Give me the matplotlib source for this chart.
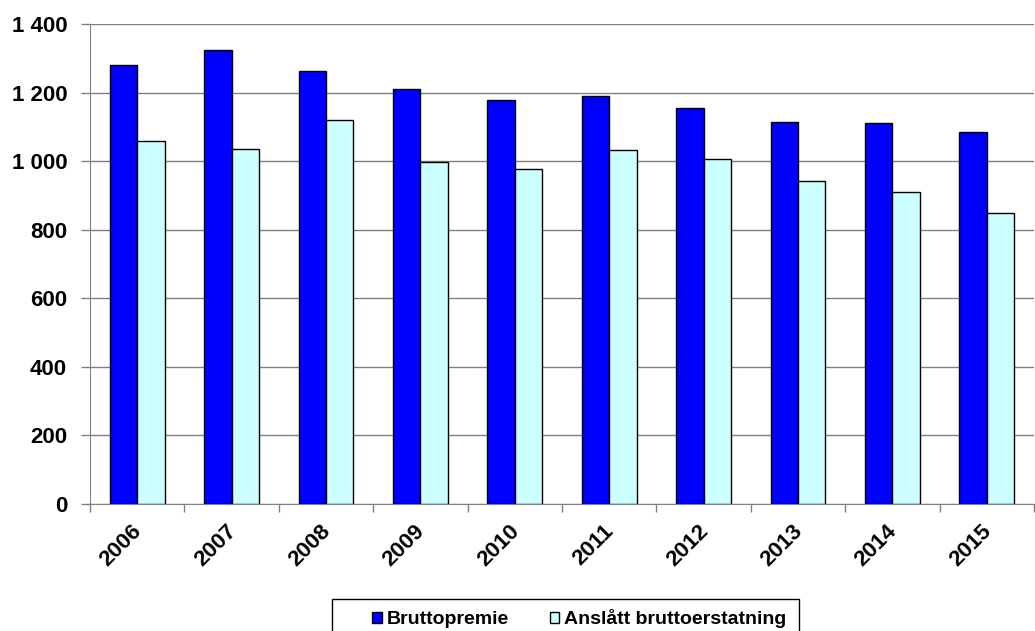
import numpy as np
import matplotlib.pyplot as plt
import matplotlib.transforms as mtransforms
from matplotlib.patches import Rectangle
from matplotlib.ticker import FuncFormatter, MultipleLocator

plt.rcParams['font.family'] = ['Liberation Sans', 'DejaVu Sans']
plt.rcParams['font.weight'] = 'bold'

years = ['2006', '2007', '2008', '2009', '2010', '2011', '2012', '2013', '2014', '2015']
bruttopremie = [1280, 1324, 1264, 1211, 1179, 1189, 1156, 1115, 1111, 1086]
erstatning = [1060, 1035, 1120, 998, 978, 1031, 1006, 942, 911, 849]

fig = plt.figure(figsize=(10.35, 6.31), dpi=100)
ax = fig.add_axes([0.087, 0.2013, 0.912, 0.7607])

x = np.arange(len(years))
w = 0.29
ax.bar(x - w / 2, bruttopremie, w, color='#0000FF', edgecolor='black', linewidth=1,
       label='Bruttopremie', zorder=3)
ax.bar(x + w / 2, erstatning, w, color='#CCFFFF', edgecolor='black', linewidth=1,
       label='Anslått bruttoerstatning', zorder=3)

ax.set_xlim(-0.5, len(years) - 0.5)
ax.set_ylim(0, 1400)
ax.yaxis.set_major_locator(MultipleLocator(200))
ax.yaxis.set_major_formatter(FuncFormatter(lambda v, p: f'{int(v):,}'.replace(',', ' ')))
ax.grid(axis='y', color='#808080', linewidth=1, zorder=0)

ax.set_xticks(x)
ax.set_xticklabels(years, rotation=45, fontsize=16, fontweight='bold')
ax.set_xticks(np.arange(-0.5, len(years)), minor=True)
ax.tick_params(axis='x', which='major', length=0, pad=12)
ax.tick_params(axis='x', which='minor', length=5.5, width=1, color='#808080', direction='out')
ax.tick_params(axis='y', length=6.5, width=1, color='#808080', labelsize=16, pad=10)
for lab in ax.get_yticklabels():
    lab.set_fontweight('bold')
shift = mtransforms.ScaledTranslation(-6 / 100, 0, fig.dpi_scale_trans)
for lab in ax.get_xticklabels():
    lab.set_ha('right')
    lab.set_rotation_mode('anchor')
    lab.set_transform(lab.get_transform() + shift)

ax.spines['top'].set_visible(False)
ax.spines['right'].set_visible(False)
ax.spines['left'].set_color('#808080')
ax.spines['bottom'].set_color('#808080')

# legend box (frame drawn separately, like the Excel original)
fig.patches.append(Rectangle((332 / 1035, -0.02), 467 / 1035, 32 / 631 + 0.02,
                             transform=fig.transFigure, facecolor='white',
                             edgecolor='black', linewidth=1))
leg = fig.legend(loc='center left', bbox_to_anchor=(372 / 1035, 12 / 631), ncol=2,
                 fontsize=14, frameon=False, handlelength=0.5, handleheight=0.5,
                 columnspacing=2.1, handletextpad=0.25, borderpad=0, borderaxespad=0)
for t in leg.get_texts():
    t.set_fontweight('bold')

fig.savefig('out.png', dpi=100)
